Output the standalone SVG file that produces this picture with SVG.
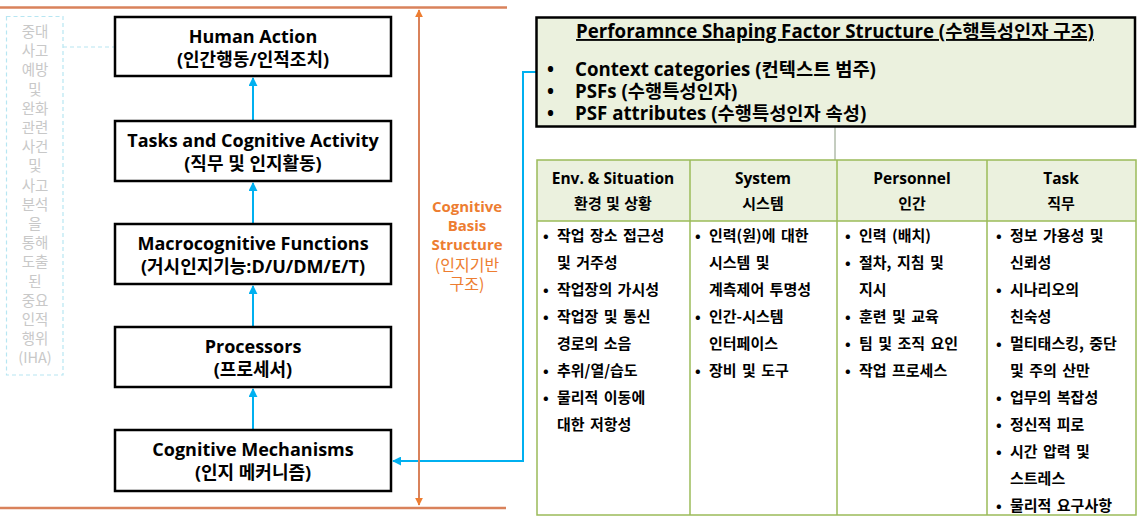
<svg xmlns="http://www.w3.org/2000/svg" width="1138" height="524" viewBox="0 0 1138 524">
<defs>
<style>
text{font-family:"Open Sans","Noto Sans CJK KR",sans-serif;}
.box{fill:#fff;stroke:#000;stroke-width:2.5;}
.bt{font-size:18px;font-weight:bold;fill:#000;text-anchor:middle;}
.iha{font-family:"Noto Sans CJK KR",sans-serif;font-size:14.5px;fill:#c8c8c8;text-anchor:middle;}
.cb{font-size:15px;font-weight:bold;fill:#ed7d31;text-anchor:middle;}
.cbk{font-family:"Noto Sans CJK KR",sans-serif;font-size:16px;fill:#ed7d31;text-anchor:middle;}
.psf{font-size:18.7px;font-weight:bold;fill:#000;}
.hd{font-size:15.5px;font-weight:bold;fill:#000;text-anchor:middle;}
.hdk{font-family:"Noto Sans CJK KR",sans-serif;font-size:15px;font-weight:bold;fill:#000;text-anchor:middle;word-spacing:1px;}
.cell{font-family:"Noto Sans CJK KR",sans-serif;font-size:15px;font-weight:bold;fill:#000;word-spacing:2px;}
.grid{stroke:#9bbb59;stroke-width:1.5;fill:none;}
.blue{stroke:#00b0f0;stroke-width:2;fill:none;}
.orange{stroke:#d9825b;stroke-width:2;fill:none;}
</style>
<marker id="ab" viewBox="0 0 10 10" refX="9" refY="5" markerWidth="4.5" markerHeight="4.5" orient="auto-start-reverse"><path d="M0,0 L10,5 L0,10 z" fill="#00b0f0"/></marker>
<marker id="ao" viewBox="0 0 10 10" refX="9" refY="5" markerWidth="4" markerHeight="4" orient="auto-start-reverse"><path d="M0,0 L10,5 L0,10 z" fill="#ed7d31"/></marker>
</defs>
<rect width="1138" height="524" fill="#fff"/>

<g id="frame">
<line x1="0" y1="7.5" x2="507" y2="7.5" stroke="#d9825b" stroke-width="2.5"/>
<line x1="0" y1="508" x2="506" y2="508" stroke="#d9825b" stroke-width="2.5"/>
</g>

<g id="connectors">
<line class="blue" x1="253" y1="121" x2="253" y2="78" marker-end="url(#ab)"/>
<line class="blue" x1="253" y1="224" x2="253" y2="183" marker-end="url(#ab)"/>
<line class="blue" x1="253" y1="327" x2="253" y2="286" marker-end="url(#ab)"/>
<line class="blue" x1="253" y1="430" x2="253" y2="389" marker-end="url(#ab)"/>
<polyline class="blue" points="536,72 523,72 523,461 393,461" marker-end="url(#ab)"/>
<line class="orange" x1="419" y1="10" x2="419" y2="505" marker-start="url(#ao)" marker-end="url(#ao)"/>
<line x1="63" y1="47" x2="114" y2="47" stroke="#b7e6f2" stroke-width="1.2" stroke-dasharray="4,3"/>
<line x1="835" y1="127" x2="835" y2="160" stroke="#8a9a80" stroke-width="1"/>
</g>

<g id="iha">
<rect x="6.5" y="16.5" width="56.5" height="358.5" fill="#fff" stroke="#b7e6f2" stroke-width="1.2" stroke-dasharray="4,3"/>
<text class="iha">
<tspan x="35" y="37">중대</tspan><tspan x="35" y="56.2">사고</tspan><tspan x="35" y="75.4">예방</tspan><tspan x="35" y="94.6">및</tspan><tspan x="35" y="113.8">완화</tspan><tspan x="35" y="133">관련</tspan><tspan x="35" y="152.2">사건</tspan><tspan x="35" y="171.4">및</tspan><tspan x="35" y="190.6">사고</tspan><tspan x="35" y="209.8">분석</tspan><tspan x="35" y="229">을</tspan><tspan x="35" y="248.2">통해</tspan><tspan x="35" y="267.4">도출</tspan><tspan x="35" y="286.6">된</tspan><tspan x="35" y="305.8">중요</tspan><tspan x="35" y="325">인적</tspan><tspan x="35" y="344.2">행위</tspan><tspan x="35" y="363.4">(IHA)</tspan>
</text>
</g>

<g id="human-action">
<rect class="box" x="115" y="17" width="276" height="59"/>
<text class="bt"><tspan x="253" y="43">Human Action</tspan><tspan x="253" y="66">(인간행동/인적조치)</tspan></text>
</g>
<g id="tasks">
<rect class="box" x="115" y="121" width="276" height="60"/>
<text class="bt"><tspan x="253" y="147">Tasks and Cognitive Activity</tspan><tspan x="253" y="170">(직무 및 인지활동)</tspan></text>
</g>
<g id="macro">
<rect class="box" x="115" y="224" width="276" height="60"/>
<text class="bt"><tspan x="253" y="250">Macrocognitive Functions</tspan><tspan x="253" y="273">(거시인지기능:D/U/DM/E/T)</tspan></text>
</g>
<g id="processors">
<rect class="box" x="115" y="327" width="276" height="60"/>
<text class="bt"><tspan x="253" y="353">Processors</tspan><tspan x="253" y="376">(프로세서)</tspan></text>
</g>
<g id="mechanisms">
<rect class="box" x="115" y="430" width="276" height="61"/>
<text class="bt"><tspan x="253" y="456">Cognitive Mechanisms</tspan><tspan x="253" y="479">(인지 메커니즘)</tspan></text>
</g>

<g id="cognitive-basis">
<text class="cb"><tspan x="467" y="212">Cognitive</tspan><tspan x="467" y="231">Basis</tspan><tspan x="467" y="250">Structure</tspan></text>
<text class="cbk"><tspan x="467" y="271">(인지기반</tspan><tspan x="467" y="290">구조)</tspan></text>
</g>

<g id="psf">
<rect x="536.5" y="17.5" width="598.5" height="109" fill="#ebf1de" stroke="#000" stroke-width="2.5"/>
<text class="psf" x="835" y="38" text-anchor="middle" text-decoration="underline">Perforamnce Shaping Factor Structure (수행특성인자 구조)</text>
<text class="psf"><tspan x="547" y="76">•</tspan><tspan x="575" y="76">Context categories (컨텍스트 범주)</tspan></text>
<text class="psf"><tspan x="547" y="98">•</tspan><tspan x="575" y="98">PSFs (수행특성인자)</tspan></text>
<text class="psf"><tspan x="547" y="120">•</tspan><tspan x="575" y="120">PSF attributes (수행특성인자 속성)</tspan></text>
</g>

<g id="table">
<rect x="537" y="160" width="599" height="61" fill="#ebf1de"/>
<rect class="grid" x="537" y="160" width="599" height="355"/>
<line class="grid" x1="537" y1="221" x2="1136" y2="221"/>
<line class="grid" x1="690" y1="160" x2="690" y2="515"/>
<line class="grid" x1="837" y1="160" x2="837" y2="515"/>
<line class="grid" x1="987" y1="160" x2="987" y2="515"/>
<text class="hd"><tspan x="613" y="184">Env. &amp; Situation</tspan><tspan x="763" y="184">System</tspan><tspan x="912" y="184">Personnel</tspan><tspan x="1061" y="184">Task</tspan></text>
<text class="hdk"><tspan x="613" y="209">환경 및 상황</tspan><tspan x="763" y="209">시스템</tspan><tspan x="912" y="209">인간</tspan><tspan x="1061" y="209">직무</tspan></text>

<text class="cell">
<tspan x="543" y="241">•</tspan><tspan x="557" y="241">작업 장소 접근성</tspan>
<tspan x="557" y="268">및 거주성</tspan>
<tspan x="543" y="295">•</tspan><tspan x="557" y="295">작업장의 가시성</tspan>
<tspan x="543" y="322">•</tspan><tspan x="557" y="322">작업장 및 통신</tspan>
<tspan x="557" y="349">경로의 소음</tspan>
<tspan x="543" y="376">•</tspan><tspan x="557" y="376">추위/열/습도</tspan>
<tspan x="543" y="403">•</tspan><tspan x="557" y="403">물리적 이동에</tspan>
<tspan x="557" y="430">대한 저항성</tspan>
</text>
<text class="cell">
<tspan x="695" y="241">•</tspan><tspan x="709" y="241">인력(원)에 대한</tspan>
<tspan x="709" y="268">시스템 및</tspan>
<tspan x="709" y="295">계측제어 투명성</tspan>
<tspan x="695" y="322">•</tspan><tspan x="709" y="322">인간-시스템</tspan>
<tspan x="709" y="349">인터페이스</tspan>
<tspan x="695" y="376">•</tspan><tspan x="709" y="376">장비 및 도구</tspan>
</text>
<text class="cell">
<tspan x="845" y="241">•</tspan><tspan x="859" y="241">인력 (배치)</tspan>
<tspan x="845" y="268">•</tspan><tspan x="859" y="268">절차, 지침 및</tspan>
<tspan x="859" y="295">지시</tspan>
<tspan x="845" y="322">•</tspan><tspan x="859" y="322">훈련 및 교육</tspan>
<tspan x="845" y="349">•</tspan><tspan x="859" y="349">팀 및 조직 요인</tspan>
<tspan x="845" y="376">•</tspan><tspan x="859" y="376">작업 프로세스</tspan>
</text>
<text class="cell">
<tspan x="996" y="241">•</tspan><tspan x="1010" y="241">정보 가용성 및</tspan>
<tspan x="1010" y="268">신뢰성</tspan>
<tspan x="996" y="295">•</tspan><tspan x="1010" y="295">시나리오의</tspan>
<tspan x="1010" y="322">친숙성</tspan>
<tspan x="996" y="349">•</tspan><tspan x="1010" y="349">멀티태스킹, 중단</tspan>
<tspan x="1010" y="376">및 주의 산만</tspan>
<tspan x="996" y="403">•</tspan><tspan x="1010" y="403">업무의 복잡성</tspan>
<tspan x="996" y="430">•</tspan><tspan x="1010" y="430">정신적 피로</tspan>
<tspan x="996" y="457">•</tspan><tspan x="1010" y="457">시간 압력 및</tspan>
<tspan x="1010" y="484">스트레스</tspan>
<tspan x="996" y="511">•</tspan><tspan x="1010" y="511">물리적 요구사항</tspan>
</text>
</g>
</svg>
